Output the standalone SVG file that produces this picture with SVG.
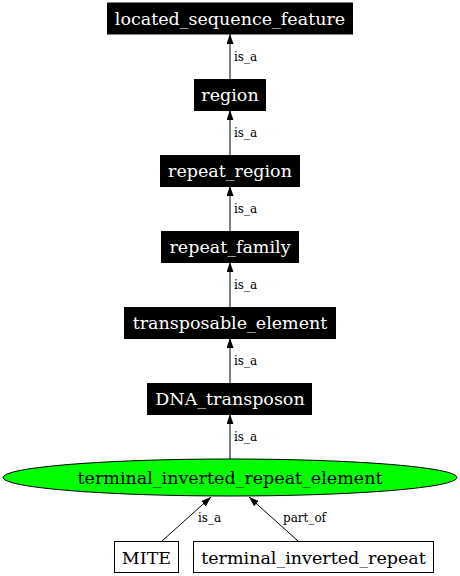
<svg xmlns="http://www.w3.org/2000/svg" width="460" height="576" viewBox="0 0 460 576">
<defs>
<style>
.n{font-family:"DejaVu Serif","Liberation Serif",serif;font-size:17.5px;text-anchor:middle}
.w{fill:#fff}
.b{fill:#000}
.bx{fill:#000;stroke:#000}
.wb{fill:#fff;stroke:#000;stroke-width:1}
.l{font-family:"DejaVu Serif","Liberation Serif",serif;font-size:12px;fill:#000}
.e{stroke:#000;stroke-width:1;fill:none}
</style>
<marker id="ah" viewBox="0 0 10 7" refX="10" refY="3.5" markerWidth="10" markerHeight="7" markerUnits="userSpaceOnUse" orient="auto">
<path d="M0,0 L10,3.5 L0,7 Z" fill="#000"/>
</marker>
</defs>
<rect width="460" height="576" fill="#fff"/>
<g id="connectors">
<line class="e" x1="230" y1="79" x2="230" y2="34" marker-end="url(#ah)"/>
<text class="l" x="234" y="61">is_a</text>
<line class="e" x1="230" y1="155" x2="230" y2="110" marker-end="url(#ah)"/>
<text class="l" x="234" y="137">is_a</text>
<line class="e" x1="230" y1="231" x2="230" y2="186" marker-end="url(#ah)"/>
<text class="l" x="234" y="213">is_a</text>
<line class="e" x1="230" y1="307" x2="230" y2="262" marker-end="url(#ah)"/>
<text class="l" x="234" y="289">is_a</text>
<line class="e" x1="230" y1="383" x2="230" y2="338" marker-end="url(#ah)"/>
<text class="l" x="234" y="365">is_a</text>
<line class="e" x1="230" y1="459" x2="230" y2="414" marker-end="url(#ah)"/>
<text class="l" x="234" y="441">is_a</text>
<line class="e" x1="162" y1="541" x2="211" y2="497" marker-end="url(#ah)"/>
<text class="l" x="198" y="522">is_a</text>
<line class="e" x1="298" y1="541" x2="249" y2="497" marker-end="url(#ah)"/>
<text class="l" x="283" y="522">part_of</text>
</g>
<g id="located_sequence_feature">
<rect class="bx" x="107.5" y="3" width="245" height="31"/>
<text class="n w" x="230" y="24.5">located_sequence_feature</text>
</g>
<g id="region">
<rect class="bx" x="194.5" y="79.5" width="71" height="31"/>
<text class="n w" x="230" y="100.5">region</text>
</g>
<g id="repeat_region">
<rect class="bx" x="160.5" y="155.5" width="139" height="31"/>
<text class="n w" x="230" y="176.5">repeat_region</text>
</g>
<g id="repeat_family">
<rect class="bx" x="161.5" y="231.5" width="137" height="31"/>
<text class="n w" x="230" y="252.5">repeat_family</text>
</g>
<g id="transposable_element">
<rect class="bx" x="124.5" y="307.5" width="211" height="31"/>
<text class="n w" x="230" y="328.5">transposable_element</text>
</g>
<g id="DNA_transposon">
<rect class="bx" x="147.5" y="383.5" width="164" height="31"/>
<text class="n w" x="230" y="404.5">DNA_transposon</text>
</g>
<g id="terminal_inverted_repeat_element">
<ellipse cx="230" cy="477.5" rx="227" ry="18.5" fill="#00ff00" stroke="#000" stroke-width="1"/>
<text class="n b" x="230" y="483.5">terminal_inverted_repeat_element</text>
</g>
<g id="MITE">
<rect class="wb" x="114.5" y="541.5" width="64" height="31"/>
<text class="n b" x="146.5" y="563.5">MITE</text>
</g>
<g id="terminal_inverted_repeat">
<rect class="wb" x="193.5" y="541.5" width="240" height="31"/>
<text class="n b" x="313.5" y="563.5">terminal_inverted_repeat</text>
</g>
</svg>
